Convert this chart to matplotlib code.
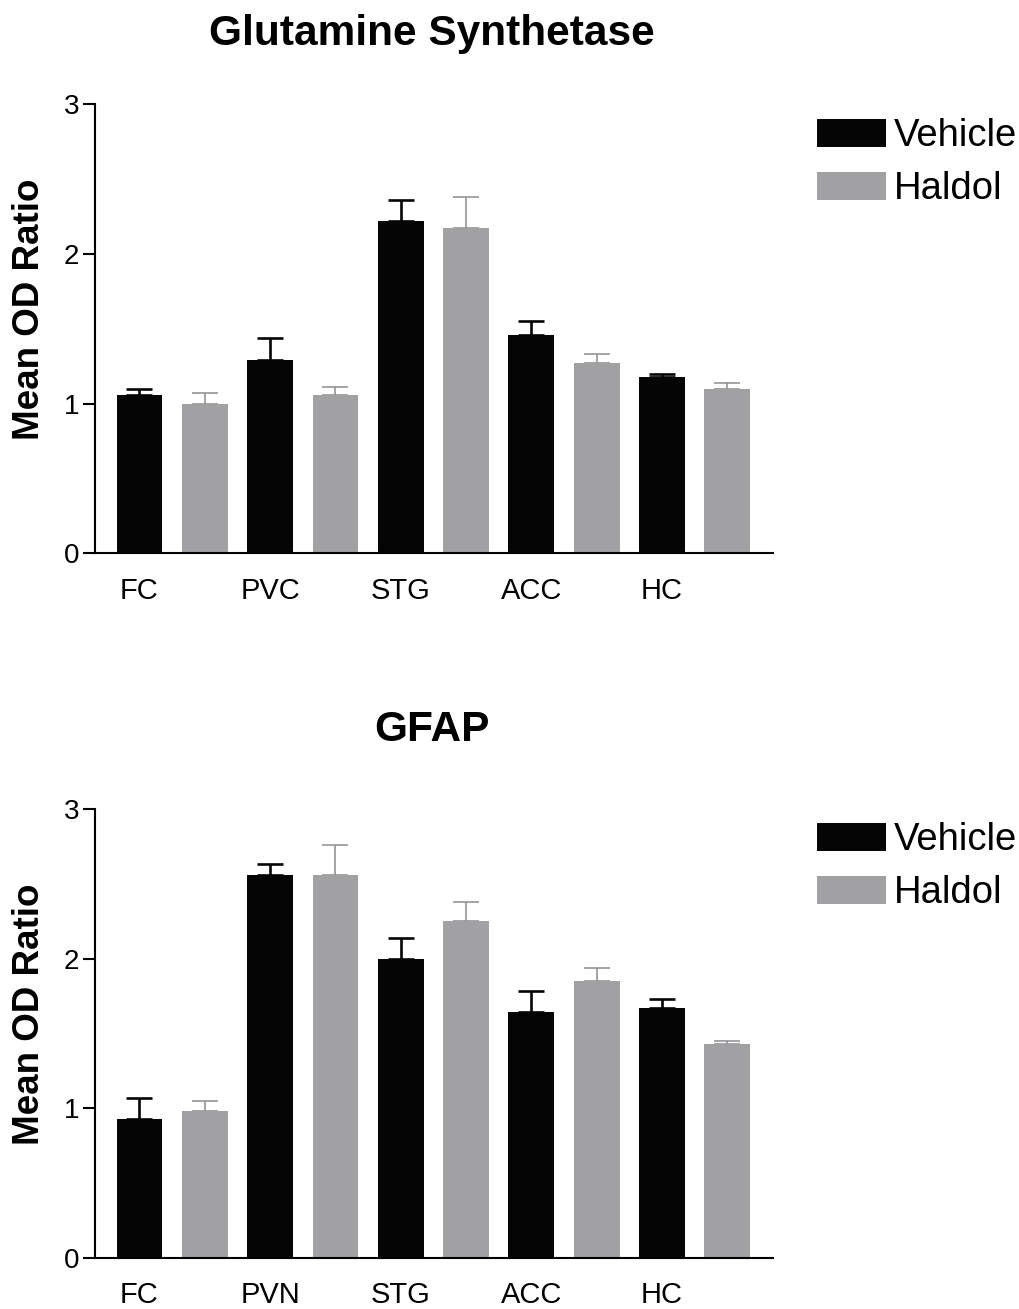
import matplotlib
matplotlib.use("Agg")
import matplotlib.pyplot as plt
from matplotlib.patches import Patch
import numpy as np

plt.rcParams['font.family'] = ['Liberation Sans', 'DejaVu Sans']

# ---- data ----
gs_regions = ["FC", "PVC", "STG", "ACC", "HC"]
gs_vehicle = [1.06, 1.29, 2.22, 1.46, 1.18]
gs_vehicle_err = [0.04, 0.15, 0.14, 0.09, 0.02]
gs_haldol = [1.00, 1.06, 2.17, 1.27, 1.10]
gs_haldol_err = [0.07, 0.05, 0.21, 0.06, 0.035]

gfap_regions = ["FC", "PVN", "STG", "ACC", "HC"]
gfap_vehicle = [0.93, 2.56, 2.00, 1.64, 1.67]
gfap_vehicle_err = [0.14, 0.07, 0.14, 0.145, 0.06]
gfap_haldol = [0.98, 2.56, 2.25, 1.85, 1.43]
gfap_haldol_err = [0.07, 0.20, 0.13, 0.09, 0.02]

series_labels = ["Vehicle", "Haldol"]
y_ticks = [0, 1, 2, 3]

VEH = "#050505"
HAL = "#a1a1a3"
HAL_ERR = "#8c8c8e"

W, H = 1019, 1309
fig = plt.figure(figsize=(W / 100, H / 100), dpi=100)


def px_axes(left, right, top, bottom):
    return fig.add_axes([left / W, 1 - bottom / H, (right - left) / W, (bottom - top) / H])


def draw_panel(ax, regions, veh, veh_err, hal, hal_err, title, title_y, leg_top):
    n = len(regions)
    xv = np.arange(n) * 2
    xh = xv + 1
    bw = 0.70
    ax.bar(xv, veh, width=bw, color=VEH, zorder=2)
    ax.bar(xh, hal, width=bw, color=HAL, zorder=2)
    ax.errorbar(xv, veh, yerr=[np.zeros(n), veh_err], fmt='none', ecolor=VEH,
                elinewidth=1.9, capsize=9.5, capthick=1.9, zorder=1)
    ax.errorbar(xh, hal, yerr=[np.zeros(n), hal_err], fmt='none', ecolor=HAL_ERR,
                elinewidth=1.1, capsize=9.5, capthick=1.1, zorder=1)
    ax.set_xlim(-0.68, 2 * n - 1 + 0.70)
    ax.set_ylim(0, 3)
    ax.set_yticks(y_ticks)
    ax.set_yticklabels([str(t) for t in y_ticks])
    ax.set_xticks(xv)
    ax.set_xticklabels(regions)
    for s in ['top', 'right']:
        ax.spines[s].set_visible(False)
    for s in ['left', 'bottom']:
        ax.spines[s].set_linewidth(1.5)
    ax.tick_params(axis='y', length=8.5, width=1.5, labelsize=20, pad=3)
    ax.tick_params(axis='x', length=0, labelsize=21, pad=17)
    ax.set_ylabel("Mean OD Ratio", fontsize=26.5, fontweight='bold', va='center')
    ax.yaxis.set_label_coords(-0.097, 0.543)
    fig.text(432 / W, 1 - title_y / H, title, fontsize=30.5, fontweight='bold',
             ha='center', va='baseline')
    handles = [Patch(facecolor=VEH, edgecolor='none'), Patch(facecolor=HAL, edgecolor='none')]
    fig.legend(handles, series_labels, loc='upper left',
               bbox_to_anchor=(817 / W, 1 - leg_top / H), frameon=False,
               fontsize=27.5, handlelength=1.8, handleheight=0.74,
               handletextpad=0.2, labelspacing=0.45, borderpad=0, borderaxespad=0)


ax1 = px_axes(95, 773, 104, 553.3)
draw_panel(ax1, gs_regions, gs_vehicle, gs_vehicle_err, gs_haldol, gs_haldol_err,
           "Glutamine Synthetase", 45, 118)

ax2 = px_axes(95, 773, 809, 1257.7)
draw_panel(ax2, gfap_regions, gfap_vehicle, gfap_vehicle_err, gfap_haldol, gfap_haldol_err,
           "GFAP", 741, 822)

fig.savefig("out.png", dpi=100)
